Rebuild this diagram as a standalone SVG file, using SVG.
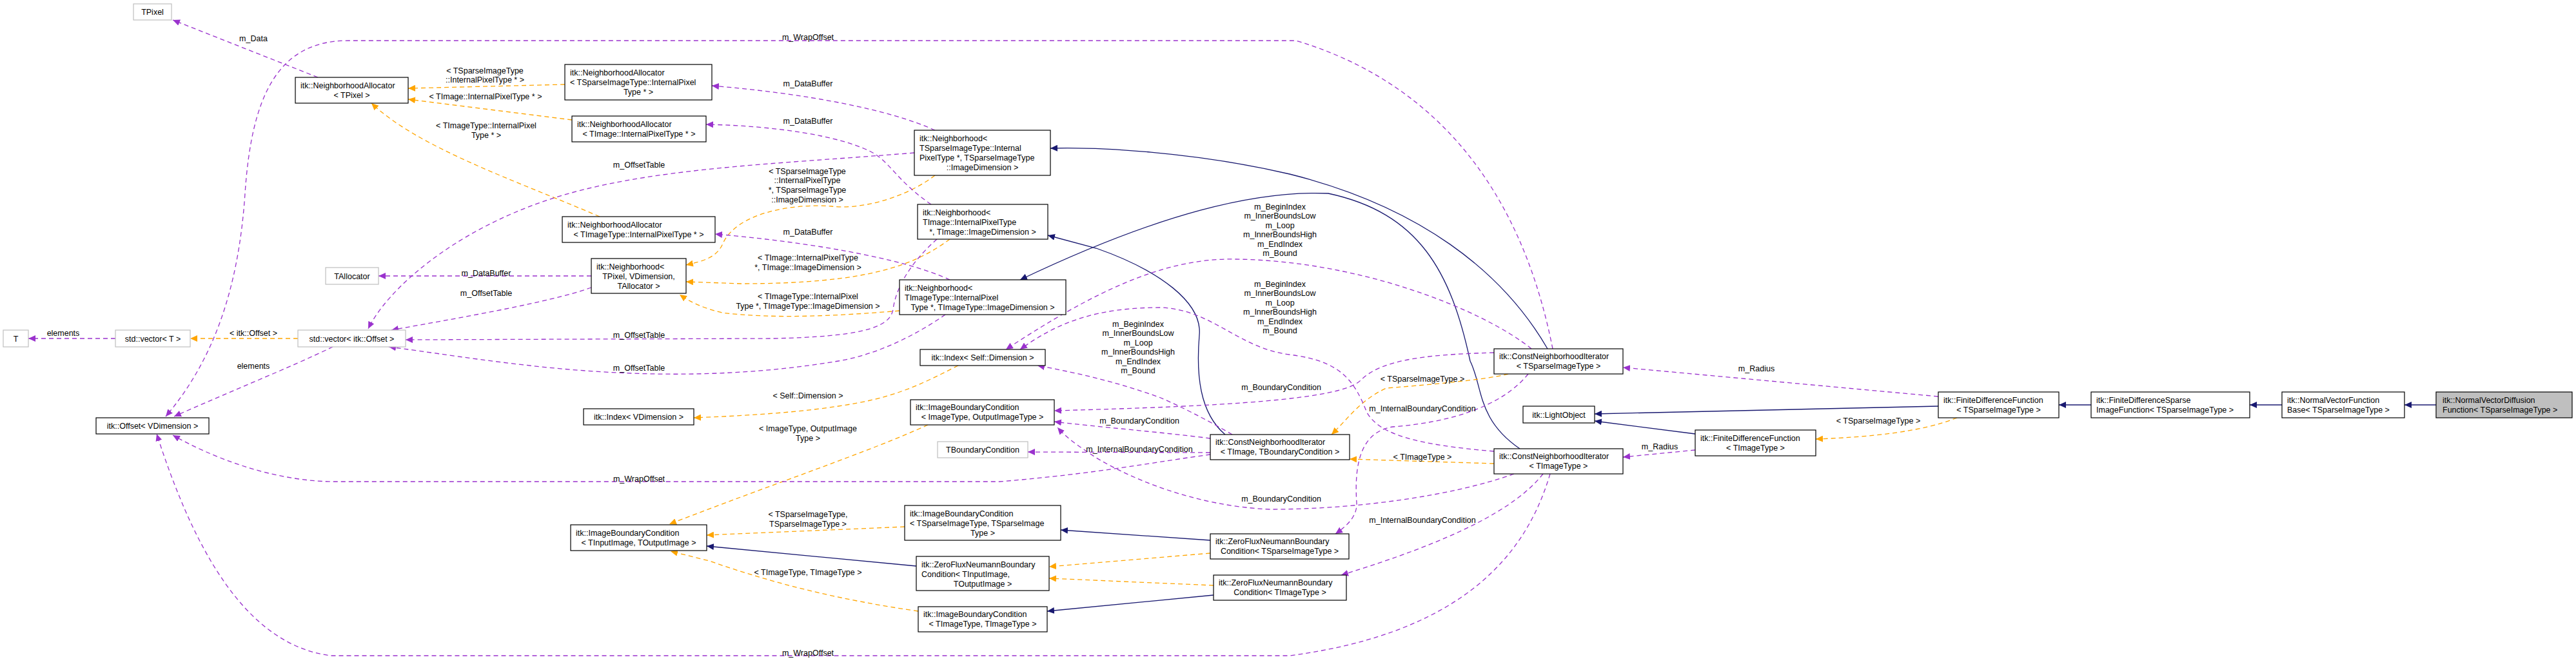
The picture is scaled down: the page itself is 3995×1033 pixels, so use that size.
<svg xmlns="http://www.w3.org/2000/svg" width="3995" height="1033" viewBox="0 0 3995 1033">
<style>
text{font-family:"Liberation Sans",Arial,sans-serif;font-size:12.5px;fill:#000}
.c{text-anchor:middle}
.n rect{fill:#fff;stroke:#000;stroke-width:1.2}
.g rect{fill:#fff;stroke:#bfbfbf;stroke-width:1.2}
.inh{fill:none;stroke:#191970;stroke-width:1.3;marker-end:url(#ai)}
.mem{fill:none;stroke:#9a32cd;stroke-width:1.3;stroke-dasharray:7,5;marker-end:url(#am)}
.tpl{fill:none;stroke:#ffa500;stroke-width:1.3;stroke-dasharray:7,5;marker-end:url(#at)}
</style>
<defs>
<marker id="ai" markerWidth="12" markerHeight="10" refX="11" refY="5" orient="auto" markerUnits="userSpaceOnUse"><path d="M0,0 L11,5 L0,10 z" fill="#191970"/></marker>
<marker id="am" markerWidth="12" markerHeight="10" refX="11" refY="5" orient="auto" markerUnits="userSpaceOnUse"><path d="M0,0 L11,5 L0,10 z" fill="#9a32cd"/></marker>
<marker id="at" markerWidth="12" markerHeight="10" refX="11" refY="5" orient="auto" markerUnits="userSpaceOnUse"><path d="M0,0 L11,5 L0,10 z" fill="#ffa500"/></marker>
</defs>
<rect width="3995" height="1033" fill="#fff"/>
<g id="connectors">
<path class="inh" d="M3778,628 L3729,628"/>
<path class="inh" d="M3539,628 L3489,628"/>
<path class="inh" d="M3243,628 L3193,628"/>
<path class="inh" d="M3006,630 L2473,642"/>
<path class="inh" d="M2629,673 L2473,653"/>
<path class="inh" d="M2400,541 C2330,420 2200,320 2000,270 C1850,235 1700,228 1629,230"/>
<path class="inh" d="M1900,674 C1860,640 1855,580 1860,520 C1865,470 1800,420 1700,385 L1625,365"/>
<path class="inh" d="M2357,696 C2290,650 2300,600 2280,560 C2250,420 2200,330 2060,300 C1950,295 1800,330 1582,434"/>
<path class="inh" d="M1877,838 L1645,822"/>
<path class="inh" d="M1421,878 L1096,847"/>
<path class="inh" d="M1882,923 L1624,948"/>
<path class="tpl" d="M876,131 L633,137"/>
<path class="tpl" d="M887,186 L633,154"/>
<path class="tpl" d="M930,336 C800,280 650,230 576,160"/>
<path class="tpl" d="M1450,272 C1400,310 1330,325 1290,320 C1230,315 1140,330 1120,380 C1110,400 1090,405 1064,411"/>
<path class="tpl" d="M1473,371 C1420,410 1350,440 1150,440 L1064,437"/>
<path class="tpl" d="M1395,482 C1300,490 1200,495 1120,485 C1090,478 1070,468 1054,457"/>
<path class="tpl" d="M462,525 L295,525"/>
<path class="tpl" d="M1486,567 C1440,590 1400,612 1330,625 C1250,640 1150,645 1076,648"/>
<path class="tpl" d="M1439,659 C1350,700 1200,750 1038,813"/>
<path class="tpl" d="M1403,817 L1096,830"/>
<path class="tpl" d="M1424,948 C1300,930 1200,905 1100,870 L1040,855"/>
<path class="tpl" d="M1877,858 L1627,879"/>
<path class="tpl" d="M1882,908 L1627,897"/>
<path class="tpl" d="M2339,580 C2300,590 2200,598 2150,602 C2110,620 2090,650 2065,674"/>
<path class="tpl" d="M2317,719 L2093,712"/>
<path class="tpl" d="M3035,648 C2980,670 2900,678 2816,681"/>
<path class="mem" d="M493,120 L268,31"/>
<path class="mem" d="M179,525 L44,525"/>
<path class="mem" d="M516,538 C450,570 350,610 270,646"/>
<path class="mem" d="M917,428 L587,428"/>
<path class="mem" d="M917,446 C850,470 700,495 607,512"/>
<path class="mem" d="M1450,202 C1380,170 1250,145 1104,133"/>
<path class="mem" d="M1444,317 C1390,280 1380,250 1350,235 C1300,210 1200,195 1095,193"/>
<path class="mem" d="M1473,434 C1400,400 1250,375 1109,363"/>
<path class="mem" d="M1418,237 C1200,255 1000,260 850,310 C700,360 600,450 571,510"/>
<path class="mem" d="M1453,371 C1420,400 1390,440 1385,480 C1380,510 1330,522 1200,525 L629,527"/>
<path class="mem" d="M1466,488 C1420,520 1360,550 1300,560 C1150,585 1000,585 850,570 C750,560 660,545 603,538"/>
<path class="mem" d="M2408,541 C2380,400 2300,150 2010,63 L540,63 C430,63 390,150 380,300 C370,450 330,560 257,646"/>
<path class="mem" d="M1877,705 C1800,715 1700,735 1550,747 L513,747 C420,745 330,710 268,675"/>
<path class="mem" d="M2404,735 C2370,850 2280,980 2000,1017 L513,1017 C380,1000 300,850 243,673"/>
<path class="mem" d="M1911,674 C1870,650 1830,630 1800,617 C1740,595 1680,580 1609,567"/>
<path class="mem" d="M2375,541 C2300,480 2100,400 1900,402 C1800,405 1700,450 1560,542"/>
<path class="mem" d="M2317,700 C2200,690 2140,675 2120,640 C2100,590 2080,560 2000,550 C1920,540 1880,480 1800,477 C1700,477 1640,500 1582,542"/>
<path class="mem" d="M2317,547 C2200,550 2140,560 2110,590 C2080,620 1900,630 1635,637"/>
<path class="mem" d="M1877,680 C1800,670 1700,662 1635,654"/>
<path class="mem" d="M2348,735 C2250,770 2100,790 1970,790 C1850,785 1750,740 1700,710 C1670,690 1655,680 1640,663"/>
<path class="mem" d="M1877,702 L1594,701"/>
<path class="mem" d="M2370,580 C2330,630 2250,655 2160,662 C2110,670 2100,720 2104,780 C2105,800 2090,815 2071,828"/>
<path class="mem" d="M2393,735 C2350,790 2250,840 2080,892"/>
<path class="mem" d="M3006,615 L2517,570"/>
<path class="mem" d="M2629,698 L2517,709"/>
</g>
<g id="edge-labels">
<text class="c" x="393" y="64">m_Data</text>
<text class="c" x="98" y="521">elements</text>
<text class="c" x="393" y="521">&lt; itk::Offset &gt;</text>
<text class="c" x="393" y="572">elements</text>
<text class="c" x="752" y="114">&lt; TSparseImageType</text>
<text class="c" x="752" y="128">::InternalPixelType * &gt;</text>
<text class="c" x="753" y="154">&lt; TImage::InternalPixelType * &gt;</text>
<text class="c" x="754" y="199">&lt; TImageType::InternalPixel</text>
<text class="c" x="754" y="214">Type * &gt;</text>
<text class="c" x="991" y="260">m_OffsetTable</text>
<text class="c" x="754" y="428">m_DataBuffer</text>
<text class="c" x="754" y="459">m_OffsetTable</text>
<text class="c" x="991" y="524">m_OffsetTable</text>
<text class="c" x="991" y="575">m_OffsetTable</text>
<text class="c" x="991" y="747">m_WrapOffset</text>
<text class="c" x="1253" y="62">m_WrapOffset</text>
<text class="c" x="1253" y="134">m_DataBuffer</text>
<text class="c" x="1253" y="192">m_DataBuffer</text>
<text class="c" x="1253" y="364">m_DataBuffer</text>
<text class="c" x="1252" y="270">&lt; TSparseImageType</text>
<text class="c" x="1252" y="284">::InternalPixelType</text>
<text class="c" x="1252" y="299">*, TSparseImageType</text>
<text class="c" x="1252" y="314">::ImageDimension &gt;</text>
<text class="c" x="1253" y="404">&lt; TImage::InternalPixelType</text>
<text class="c" x="1253" y="419">*, TImage::ImageDimension &gt;</text>
<text class="c" x="1253" y="464">&lt; TImageType::InternalPixel</text>
<text class="c" x="1253" y="479">Type *, TImageType::ImageDimension &gt;</text>
<text class="c" x="1253" y="618">&lt; Self::Dimension &gt;</text>
<text class="c" x="1253" y="669">&lt; ImageType, OutputImage</text>
<text class="c" x="1253" y="684">Type &gt;</text>
<text class="c" x="1253" y="802">&lt; TSparseImageType,</text>
<text class="c" x="1253" y="817">TSparseImageType &gt;</text>
<text class="c" x="1253" y="892">&lt; TImageType, TImageType &gt;</text>
<text class="c" x="1253" y="1017">m_WrapOffset</text>
<text class="c" x="1985" y="325">m_BeginIndex</text>
<text class="c" x="1985" y="339">m_InnerBoundsLow</text>
<text class="c" x="1985" y="354">m_Loop</text>
<text class="c" x="1985" y="368">m_InnerBoundsHigh</text>
<text class="c" x="1985" y="383">m_EndIndex</text>
<text class="c" x="1985" y="397">m_Bound</text>
<text class="c" x="1985" y="445">m_BeginIndex</text>
<text class="c" x="1985" y="459">m_InnerBoundsLow</text>
<text class="c" x="1985" y="474">m_Loop</text>
<text class="c" x="1985" y="488">m_InnerBoundsHigh</text>
<text class="c" x="1985" y="503">m_EndIndex</text>
<text class="c" x="1985" y="517">m_Bound</text>
<text class="c" x="1765" y="507">m_BeginIndex</text>
<text class="c" x="1765" y="521">m_InnerBoundsLow</text>
<text class="c" x="1765" y="536">m_Loop</text>
<text class="c" x="1765" y="550">m_InnerBoundsHigh</text>
<text class="c" x="1765" y="565">m_EndIndex</text>
<text class="c" x="1765" y="579">m_Bound</text>
<text class="c" x="1767" y="657">m_BoundaryCondition</text>
<text class="c" x="1767" y="701">m_InternalBoundaryCondition</text>
<text class="c" x="1987" y="605">m_BoundaryCondition</text>
<text class="c" x="1987" y="778">m_BoundaryCondition</text>
<text class="c" x="2206" y="592">&lt; TSparseImageType &gt;</text>
<text class="c" x="2206" y="638">m_InternalBoundaryCondition</text>
<text class="c" x="2206" y="713">&lt; TImageType &gt;</text>
<text class="c" x="2206" y="811">m_InternalBoundaryCondition</text>
<text class="c" x="2724" y="576">m_Radius</text>
<text class="c" x="2574" y="697">m_Radius</text>
<text class="c" x="2913" y="657">&lt; TSparseImageType &gt;</text>
</g>
<g id="n_tpixel" class="g"><rect x="207" y="6" width="59" height="25"/><text class="c" x="236.5" y="23">TPixel</text></g>
<g id="n_na_tpixel" class="n"><rect x="458" y="120" width="175" height="40"/><text x="466" y="137">itk::NeighborhoodAllocator</text><text class="c" x="545.5" y="152">&lt; TPixel &gt;</text></g>
<g id="n_na_sparse" class="n"><rect x="876" y="100" width="228" height="55"/><text x="884" y="117">itk::NeighborhoodAllocator</text><text x="884" y="132">&lt; TSparseImageType::InternalPixel</text><text class="c" x="990" y="147">Type * &gt;</text></g>
<g id="n_na_timage" class="n"><rect x="887" y="180" width="208" height="40"/><text x="895" y="197">itk::NeighborhoodAllocator</text><text class="c" x="991" y="212">&lt; TImage::InternalPixelType * &gt;</text></g>
<g id="n_na_timagetype" class="n"><rect x="872" y="336" width="237" height="40"/><text x="880" y="353">itk::NeighborhoodAllocator</text><text class="c" x="990.5" y="368">&lt; TImageType::InternalPixelType * &gt;</text></g>
<g id="n_tallocator" class="g"><rect x="505" y="415" width="82" height="26"/><text class="c" x="546" y="433">TAllocator</text></g>
<g id="n_n_tpixel" class="n"><rect x="917" y="401" width="147" height="54"/><text x="925" y="418">itk::Neighborhood&lt;</text><text class="c" x="990.5" y="433">TPixel, VDimension,</text><text class="c" x="990.5" y="448">TAllocator &gt;</text></g>
<g id="n_t" class="g"><rect x="5" y="512" width="39" height="26"/><text class="c" x="24.5" y="530">T</text></g>
<g id="n_vec_t" class="g"><rect x="179" y="512" width="116" height="26"/><text class="c" x="237" y="530">std::vector&lt; T &gt;</text></g>
<g id="n_vec_offset" class="g"><rect x="462" y="512" width="167" height="26"/><text class="c" x="545.5" y="530">std::vector&lt; itk::Offset &gt;</text></g>
<g id="n_offset" class="n"><rect x="149" y="648" width="175" height="25"/><text class="c" x="236.5" y="665">itk::Offset&lt; VDimension &gt;</text></g>
<g id="n_index_v" class="n"><rect x="905" y="634" width="171" height="25"/><text class="c" x="990.5" y="651">itk::Index&lt; VDimension &gt;</text></g>
<g id="n_ibc_io" class="n"><rect x="885" y="814" width="211" height="40"/><text x="893" y="831">itk::ImageBoundaryCondition</text><text class="c" x="990.5" y="846">&lt; TInputImage, TOutputImage &gt;</text></g>
<g id="n_n_sparse" class="n"><rect x="1418" y="202" width="211" height="70"/><text x="1426" y="219">itk::Neighborhood&lt;</text><text x="1426" y="234"> TSparseImageType::Internal</text><text x="1426" y="249">PixelType *, TSparseImageType</text><text class="c" x="1523.5" y="264">::ImageDimension &gt;</text></g>
<g id="n_n_timage" class="n"><rect x="1423" y="317" width="202" height="54"/><text x="1431" y="334">itk::Neighborhood&lt;</text><text x="1431" y="349"> TImage::InternalPixelType</text><text class="c" x="1524" y="364"> *, TImage::ImageDimension &gt;</text></g>
<g id="n_n_timagetype" class="n"><rect x="1395" y="434" width="258" height="54"/><text x="1403" y="451">itk::Neighborhood&lt;</text><text x="1403" y="466"> TImageType::InternalPixel</text><text class="c" x="1524" y="481">Type *, TImageType::ImageDimension &gt;</text></g>
<g id="n_index_self" class="n"><rect x="1427" y="542" width="194" height="25"/><text class="c" x="1524" y="559">itk::Index&lt; Self::Dimension &gt;</text></g>
<g id="n_ibc_img" class="n"><rect x="1412" y="620" width="223" height="39"/><text x="1420" y="636">itk::ImageBoundaryCondition</text><text class="c" x="1523.5" y="651">&lt; ImageType, OutputImageType &gt;</text></g>
<g id="n_tbc" class="g"><rect x="1454" y="685" width="140" height="25"/><text class="c" x="1524" y="702">TBoundaryCondition</text></g>
<g id="n_ibc_sparse" class="n"><rect x="1403" y="784" width="242" height="54"/><text x="1411" y="801">itk::ImageBoundaryCondition</text><text x="1411" y="816">&lt; TSparseImageType, TSparseImage</text><text class="c" x="1524" y="831">Type &gt;</text></g>
<g id="n_zfn_io" class="n"><rect x="1421" y="863" width="206" height="53"/><text x="1429" y="880">itk::ZeroFluxNeumannBoundary</text><text x="1429" y="895">Condition&lt; TInputImage,</text><text class="c" x="1524" y="910">TOutputImage &gt;</text></g>
<g id="n_ibc_tt" class="n"><rect x="1424" y="941" width="200" height="39"/><text x="1432" y="957">itk::ImageBoundaryCondition</text><text class="c" x="1524" y="972">&lt; TImageType, TImageType &gt;</text></g>
<g id="n_cni_tbc" class="n"><rect x="1877" y="674" width="216" height="39"/><text x="1885" y="690">itk::ConstNeighborhoodIterator</text><text class="c" x="1985" y="705">&lt; TImage, TBoundaryCondition &gt;</text></g>
<g id="n_zfn_sparse" class="n"><rect x="1877" y="828" width="215" height="39"/><text x="1885" y="844">itk::ZeroFluxNeumannBoundary</text><text class="c" x="1984.5" y="859">Condition&lt; TSparseImageType &gt;</text></g>
<g id="n_zfn_tt" class="n"><rect x="1882" y="892" width="206" height="39"/><text x="1890" y="908">itk::ZeroFluxNeumannBoundary</text><text class="c" x="1985" y="923">Condition&lt; TImageType &gt;</text></g>
<g id="n_cni_sparse" class="n"><rect x="2317" y="541" width="200" height="39"/><text x="2325" y="557">itk::ConstNeighborhoodIterator</text><text class="c" x="2417" y="572">&lt; TSparseImageType &gt;</text></g>
<g id="n_cni_tt" class="n"><rect x="2317" y="696" width="200" height="39"/><text x="2325" y="712">itk::ConstNeighborhoodIterator</text><text class="c" x="2417" y="727">&lt; TImageType &gt;</text></g>
<g id="n_lightobject" class="n"><rect x="2362" y="630" width="111" height="26"/><text class="c" x="2417.5" y="648">itk::LightObject</text></g>
<g id="n_fdf_tt" class="n"><rect x="2629" y="667" width="187" height="40"/><text x="2637" y="684">itk::FiniteDifferenceFunction</text><text class="c" x="2722.5" y="699">&lt; TImageType &gt;</text></g>
<g id="n_fdf_sparse" class="n"><rect x="3006" y="608" width="187" height="40"/><text x="3014" y="625">itk::FiniteDifferenceFunction</text><text class="c" x="3099.5" y="640">&lt; TSparseImageType &gt;</text></g>
<g id="n_fdsif" class="n"><rect x="3243" y="608" width="246" height="40"/><text x="3251" y="625">itk::FiniteDifferenceSparse</text><text x="3251" y="640">ImageFunction&lt; TSparseImageType &gt;</text></g>
<g id="n_nvfb" class="n"><rect x="3539" y="608" width="190" height="40"/><text x="3547" y="625">itk::NormalVectorFunction</text><text x="3547" y="640">Base&lt; TSparseImageType &gt;</text></g>
<g id="n_nvd" class="n"><rect x="3778" y="608" width="211" height="40" style="fill:#bfbfbf"/><text x="3788" y="625">itk::NormalVectorDiffusion</text><text x="3788" y="640">Function&lt; TSparseImageType &gt;</text></g>
</svg>
